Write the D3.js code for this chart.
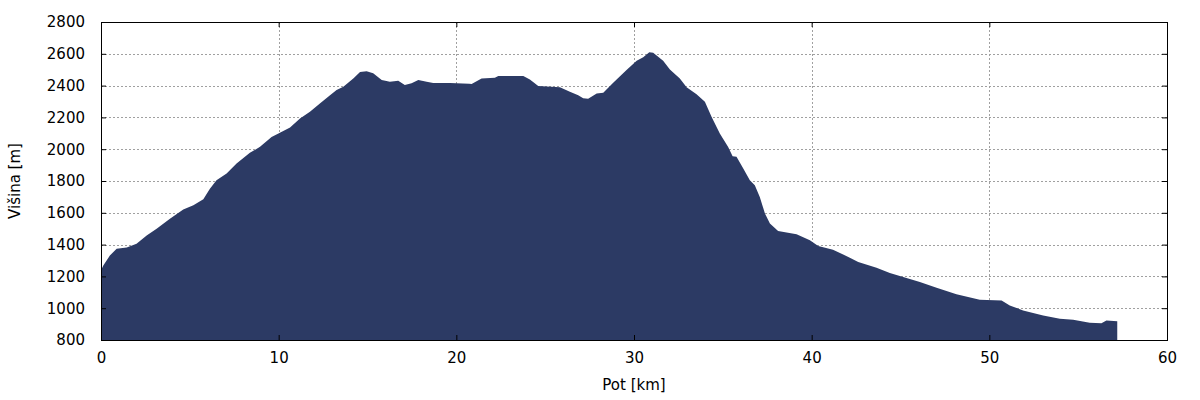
<!DOCTYPE html>
<html>
<head>
<meta charset="utf-8">
<script src="https://cdn.jsdelivr.net/npm/d3@7"></script>
<style>
	body { margin: 0; background: #fff; }
	svg text { font-family: "DejaVu Sans", sans-serif; font-size: 15px; fill: #000; }
</style>
</head>
<body>
<div id="chart"></div>
<script>
// profil poti: razdalja [km] in visina [m], odcitano s slike
var distKm = [0, 0.13, 0.5, 0.88, 1.45, 2.0, 2.57, 3.13, 3.88, 4.63, 5.2, 5.76, 6.13, 6.5, 7.07, 7.63,
	8.38, 8.95, 9.6, 10.07, 10.64, 11.2, 11.76, 12.32, 12.89, 13.26, 13.64, 14.2, 14.58, 14.95, 15.32,
	15.8, 16.26, 16.73, 17.1, 17.48, 17.86, 18.33, 18.7, 19.64, 20.73, 20.86, 21.42, 22.17, 22.36, 23.77,
	24.14, 24.61, 25.83, 26.39, 26.86, 27.14, 27.42, 27.9, 28.27, 28.83, 29.58, 30.15, 30.52, 30.86,
	31.08, 31.64, 32.02, 32.58, 32.96, 33.52, 33.99, 34.37, 34.83, 35.3, 35.55, 35.77, 36.15, 36.52,
	36.8, 37.08, 37.37, 37.65, 38.11, 39.15, 39.9, 40.37, 41.2, 42.15, 42.62, 43.65, 44.4, 45.15,
	46.09, 47.03, 48.15, 49.46, 50.69, 51.15, 51.9, 53.03, 53.97, 54.72, 55.65, 56.31, 56.59, 57.2];
var elevM = [1238, 1269, 1332, 1374, 1381, 1406, 1458, 1500, 1563, 1620, 1647, 1685, 1752, 1805, 1847, 1910,
	1977, 2015, 2077, 2103, 2137, 2193, 2235, 2288, 2340, 2372, 2393, 2445, 2485, 2491, 2477,
	2435, 2424, 2430, 2403, 2414, 2435, 2424, 2416, 2416, 2412, 2410, 2445, 2449, 2460, 2460,
	2439, 2397, 2389, 2361, 2340, 2321, 2317, 2351, 2355, 2418, 2498, 2556, 2578, 2609,
	2607, 2556, 2502, 2445, 2389, 2345, 2298, 2203, 2099, 2014, 1956, 1952, 1878, 1805,
	1773, 1700, 1595, 1532, 1485, 1465, 1427, 1391, 1368, 1318, 1290, 1255, 1221, 1196,
	1164, 1129, 1087, 1053, 1049, 1017, 986, 954, 933, 927, 908, 906, 923, 918];
var xTicks = [0, 10, 20, 30, 40, 50, 60];
var yTicks = [800, 1000, 1200, 1400, 1600, 1800, 2000, 2200, 2400, 2600, 2800];

var width = 1200, height = 400;
var margin = { left: 101, right: 33, top: 22, bottom: 60 };
var iw = width - margin.left - margin.right,
	ih = height - margin.top - margin.bottom;

var svg = d3.select("#chart").append("svg")
	.attr("width", width)
	.attr("height", height);

var g = svg.append("g")
	.attr("transform", "translate(" + margin.left + "," + margin.top + ")");

var x = d3.scaleLinear().domain([0, 60]).range([0, iw]);
var y = d3.scaleLinear().domain([800, 2800]).range([ih, 0]);

// mreza
g.append("g").selectAll("line").data(xTicks.slice(1, -1)).join("line")
	.attr("x1", function(d) { return Math.round(x(d)) + 0.5; })
	.attr("x2", function(d) { return Math.round(x(d)) + 0.5; })
	.attr("y1", 0).attr("y2", ih)
	.attr("stroke", "#a0a0a0").attr("stroke-dasharray", "2,2");
g.append("g").selectAll("line").data(yTicks.slice(1, -1)).join("line")
	.attr("y1", function(d) { return Math.round(y(d)) + 0.5; })
	.attr("y2", function(d) { return Math.round(y(d)) + 0.5; })
	.attr("x1", 0).attr("x2", iw)
	.attr("stroke", "#a0a0a0").attr("stroke-dasharray", "2,2");

// profil
var pts = distKm.map(function(d, i) { return [d, elevM[i]]; });
var area = d3.area()
	.x(function(d) { return x(d[0]); })
	.y0(y(800))
	.y1(function(d) { return y(d[1]); });

g.append("path")
	.datum(pts)
	.attr("d", area)
	.attr("fill", "#2c3a64");

// osi (kljukice navznoter)
var fmt = d3.format("d");
g.append("g")
	.attr("transform", "translate(0," + ih + ")")
	.call(d3.axisBottom(x).tickValues(xTicks).tickFormat(fmt).tickSizeInner(-5).tickSizeOuter(0).tickPadding(12))
	.call(function(s) { s.select(".domain").remove(); });
g.append("g")
	.call(d3.axisLeft(y).tickValues(yTicks).tickFormat(fmt).tickSizeInner(-5).tickSizeOuter(0).tickPadding(16))
	.call(function(s) { s.select(".domain").remove(); });
g.append("g")
	.call(d3.axisTop(x).tickValues(xTicks).tickSizeInner(-5).tickSizeOuter(0).tickFormat(""))
	.call(function(s) { s.select(".domain").remove(); });
g.append("g")
	.attr("transform", "translate(" + iw + ",0)")
	.call(d3.axisRight(y).tickValues(yTicks).tickSizeInner(-5).tickSizeOuter(0).tickFormat(""))
	.call(function(s) { s.select(".domain").remove(); });

g.selectAll(".tick text").style("font-size", "15px").style("font-family", "DejaVu Sans, sans-serif");

g.append("rect")
	.attr("x", 0.5).attr("y", 0.5)
	.attr("width", iw).attr("height", ih)
	.attr("fill", "none").attr("stroke", "#000");

// naslovi osi
svg.append("text")
	.attr("x", margin.left + iw / 2)
	.attr("y", 390)
	.attr("text-anchor", "middle")
	.text("Pot [km]");
svg.append("text")
	.attr("transform", "translate(19.5," + (margin.top + ih / 2) + ") rotate(-90)")
	.attr("text-anchor", "middle")
	.text("Višina [m]");
</script>
</body>
</html>
